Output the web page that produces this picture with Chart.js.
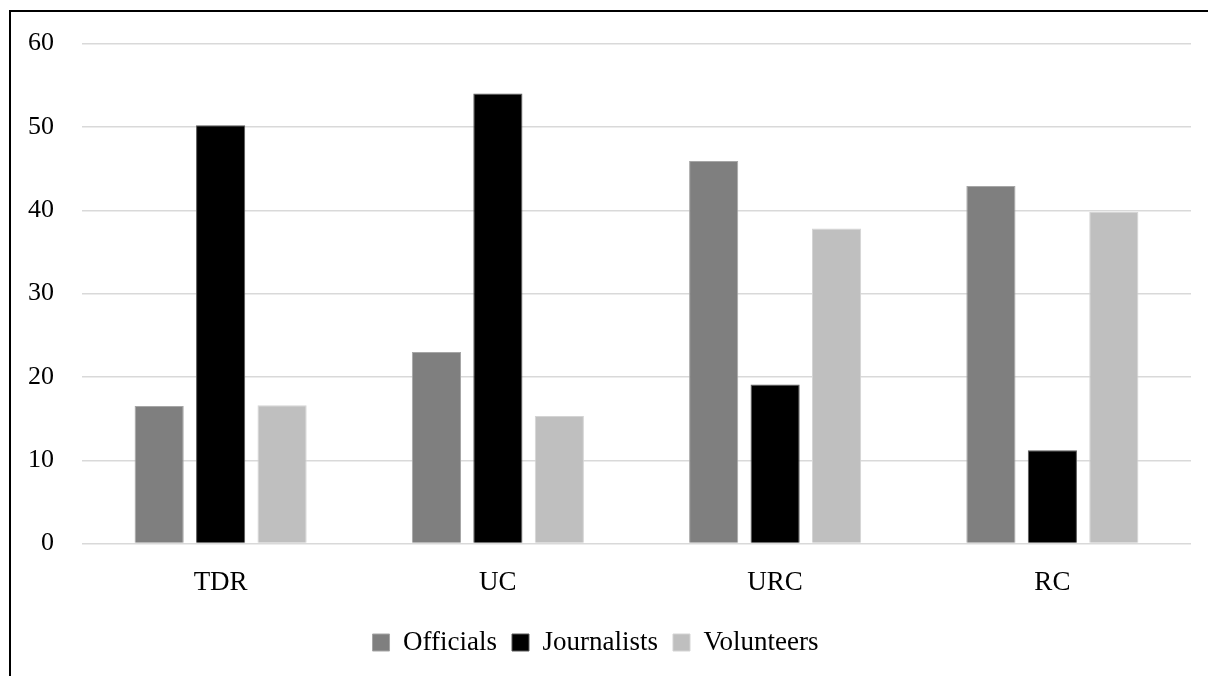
<!DOCTYPE html>
<html>
<head>
<meta charset="utf-8">
<script src="https://cdn.jsdelivr.net/npm/chart.js@4"></script>
<style>
	html, body { margin: 0; padding: 0; background: #fff; }
	#frame {
		position: absolute;
		left: 9px;
		top: 10px;
		width: 1199px;
		height: 666px;
		border-top: 2px solid #000;
		border-left: 2px solid #000;
	}
	#wrap { position: absolute; left: 0; top: 0; width: 1208px; height: 676px; }
</style>
</head>
<body>
<div id="frame"></div>
<div id="wrap"><canvas id="chart"></canvas></div>
<script>
const categories = ['TDR', 'UC', 'URC', 'RC'];
const officials = [16.5, 23.0, 45.9, 42.9];
const journalists = [50.2, 54.0, 19.1, 11.2];
const volunteers = [16.6, 15.3, 37.8, 39.8];
const yTicks = [0, 10, 20, 30, 40, 50, 60];

const serif = '"Liberation Serif", "DejaVu Serif", serif';

let ctx = document.getElementById('chart').getContext('2d');
const chart = new Chart(ctx, {
	type: 'bar',
	data: {
		labels: categories,
		datasets: [
			{
				label: 'Officials',
				data: officials,
				backgroundColor: '#7f7f7f',
				borderColor: '#a6a6a6',
				borderWidth: 1,
			},
			{
				label: 'Journalists',
				data: journalists,
				backgroundColor: '#000000',
				borderColor: '#595959',
				borderWidth: 1,
			},
			{
				label: 'Volunteers',
				data: volunteers,
				backgroundColor: '#bfbfbf',
				borderColor: '#d4d4d4',
				borderWidth: 1,
			},
		],
	},
	options: {
		responsive: true,
		maintainAspectRatio: false,
		animation: false,
		categoryPercentage: 0.665,
		barPercentage: 0.8,
		layout: {
			padding: { left: 0, right: 17, top: 41, bottom: 10 },
		},
		scales: {
			x: {
				grid: { display: false },
				border: { display: false },
				ticks: {
					color: '#000',
					padding: 15,
					font: { family: serif, size: 27 },
				},
			},
			y: {
				min: 0,
				max: 60,
				afterBuildTicks(axis) {
					axis.ticks = yTicks.map(v => ({ value: v }));
				},
				grid: {
					color: '#d9d9d9',
					lineWidth: 1.5,
					drawTicks: false,
				},
				border: { display: false },
				ticks: {
					color: '#000',
					padding: 28,
					font: { family: serif, size: 26 },
				},
			},
		},
		plugins: {
			legend: {
				position: 'bottom',
				labels: {
					color: '#000',
					boxWidth: 17,
					boxHeight: 17,
					padding: 15,
					font: { family: serif, size: 27 },
				},
			},
			tooltip: { enabled: false },
		},
	},
});
</script>
</body>
</html>
